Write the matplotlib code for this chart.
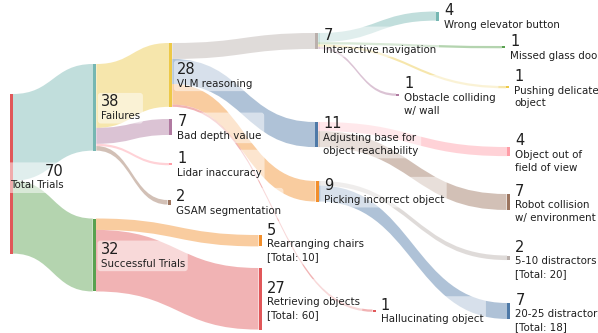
"""Sankey diagram of trial outcomes and failure modes."""

from __future__ import annotations

import matplotlib

matplotlib.use("Agg")
import matplotlib.pyplot as plt
from matplotlib.patches import FancyBboxPatch, PathPatch, Rectangle
from matplotlib.path import Path


# --- data -----------------------------------------------------------------
node_keys = [
    "total", "failures", "success", "vlm", "depth", "lidar", "gsam",
    "interactive", "adjust", "picking", "rearrange", "retrieve", "halluc",
    "obstacle", "elevator", "glass", "delicate", "fov", "collision",
    "d5_10", "d20_25",
]
node_values = [70, 38, 32, 28, 7, 1, 2, 7, 11, 9, 5, 27, 1, 1, 4, 1, 1, 4, 7, 2, 7]
node_names = [
    "Total Trials", "Failures", "Successful Trials", "VLM reasoning",
    "Bad depth value", "Lidar inaccuracy", "GSAM segmentation",
    "Interactive navigation", "Adjusting base for\nobject reachability",
    "Picking incorrect object", "Rearranging chairs\n[Total: 10]",
    "Retrieving objects\n[Total: 60]", "Hallucinating object",
    "Obstacle colliding\nw/ wall", "Wrong elevator button",
    "Missed glass door", "Pushing delicate\nobject",
    "Object out of\nfield of view", "Robot collision\nw/ environment",
    "5-10 distractors\n[Total: 20]", "20-25 distractors\n[Total: 18]",
]

flow_sources = [
    "total", "total",
    "failures", "failures", "failures", "failures",
    "success", "success",
    "vlm", "vlm", "vlm", "vlm",
    "interactive", "interactive", "interactive", "interactive",
    "adjust", "adjust",
    "picking", "picking",
]
flow_targets = [
    "failures", "success",
    "vlm", "depth", "lidar", "gsam",
    "rearrange", "retrieve",
    "interactive", "adjust", "picking", "halluc",
    "elevator", "glass", "delicate", "obstacle",
    "fov", "collision",
    "d5_10", "d20_25",
]
flow_values = [38, 32, 28, 7, 1, 2, 5, 27, 7, 11, 9, 1, 4, 1, 1, 1, 4, 7, 2, 7]

# --- layout (pixels) ------------------------------------------------------
SCALE = 2.28  # px per trial
BAR_W = 3.3
node_x = {
    "total": 9.5, "failures": 93, "success": 92.7, "vlm": 169, "depth": 169,
    "lidar": 169, "gsam": 167.5, "interactive": 315, "adjust": 315,
    "picking": 315.5, "rearrange": 258.5, "retrieve": 258.5, "halluc": 372.5,
    "obstacle": 396, "elevator": 436, "glass": 502, "delicate": 506,
    "fov": 507, "collision": 506.5, "d5_10": 507, "d20_25": 507,
}
node_top = {
    "total": 94, "failures": 64, "success": 218.5, "vlm": 43, "depth": 119,
    "lidar": 163, "gsam": 200, "interactive": 33, "adjust": 122,
    "picking": 181, "rearrange": 235, "retrieve": 268, "halluc": 309.5,
    "obstacle": 93.5, "elevator": 11.5, "glass": 46, "delicate": 86,
    "fov": 147, "collision": 194, "d5_10": 255.5, "d20_25": 303,
}

T10 = {
    "blue": "#4e79a7", "orange": "#f28e2b", "red": "#e15759", "teal": "#76b7b2",
    "green": "#59a14f", "yellow": "#edc948", "purple": "#b07aa1",
    "pink": "#ff9da7", "brown": "#9c755f", "grey": "#bab0ac",
}
node_color = {
    "total": T10["red"], "failures": T10["teal"], "success": T10["green"],
    "vlm": T10["yellow"], "depth": T10["purple"], "lidar": T10["pink"],
    "gsam": T10["brown"], "interactive": T10["grey"], "adjust": T10["blue"],
    "picking": T10["orange"], "rearrange": T10["orange"], "retrieve": T10["red"],
    "halluc": T10["red"], "obstacle": T10["purple"], "elevator": T10["teal"],
    "glass": T10["green"], "delicate": T10["yellow"], "fov": T10["pink"],
    "collision": T10["brown"], "d5_10": T10["grey"], "d20_25": T10["blue"],
}

LINK_ALPHA = 0.45
TEXT_COLOR = "#1f1f1f"
NUM_SIZE = 10.5
NAME_SIZE = 7.35


def _link_path(x0: float, s0: float, s1: float, x1: float, t0: float, t1: float) -> Path:
    xm = (x0 + x1) / 2
    verts = [
        (x0, s0), (xm, s0), (xm, t0), (x1, t0),
        (x1, t1), (xm, t1), (xm, s1), (x0, s1), (x0, s0),
    ]
    codes = [
        Path.MOVETO, Path.CURVE4, Path.CURVE4, Path.CURVE4,
        Path.LINETO, Path.CURVE4, Path.CURVE4, Path.CURVE4, Path.CLOSEPOLY,
    ]
    return Path(verts, codes)


def main() -> None:
    fig = plt.figure(figsize=(5.98, 3.33), dpi=100)
    ax = fig.add_axes([0, 0, 1, 1])
    ax.set_xlim(0, 598)
    ax.set_ylim(333, 0)
    ax.axis("off")

    values = dict(zip(node_keys, node_values))
    flows = list(zip(flow_sources, flow_targets, flow_values))

    # stacking offsets: outgoing sorted by target position, incoming by source
    src_off: dict[tuple[str, str], float] = {}
    for key in node_keys:
        outs = sorted([f for f in flows if f[0] == key], key=lambda f: node_top[f[1]])
        y = node_top[key]
        for s, t, v in outs:
            src_off[(s, t)] = y
            y += v * SCALE
    tgt_off: dict[tuple[str, str], float] = {}
    for key in node_keys:
        ins = sorted([f for f in flows if f[1] == key], key=lambda f: node_top[f[0]])
        y = node_top[key]
        for s, t, v in ins:
            tgt_off[(s, t)] = y
            y += v * SCALE

    for s, t, v in flows:
        h = v * SCALE
        s0 = src_off[(s, t)]
        t0 = tgt_off[(s, t)]
        path = _link_path(node_x[s] + BAR_W, s0, s0 + h, node_x[t], t0, t0 + h)
        ax.add_patch(
            PathPatch(path, facecolor=node_color[t], alpha=LINK_ALPHA, lw=0, zorder=1)
        )

    for key in node_keys:
        ax.add_patch(
            Rectangle(
                (node_x[key], node_top[key]),
                BAR_W,
                values[key] * SCALE,
                facecolor=node_color[key],
                lw=0,
                zorder=2,
            )
        )

    labels = []
    for key, name in zip(node_keys, node_names):
        n_lines = name.count("\n") + 1
        yc = node_top[key] + values[key] * SCALE / 2
        if key == "total":
            yc += 3
        block_h = 10.6 + 5 + 7.4 + (n_lines - 1) * 10.5
        base = yc - block_h / 2 + 10.6
        if key == "total":
            lx, ha = 64, "right"
        else:
            lx, ha = node_x[key] + BAR_W + 5, "left"
        t_num = ax.text(
            lx, base, str(values[key]), fontsize=NUM_SIZE, color=TEXT_COLOR,
            ha=ha, va="baseline", zorder=4,
        )
        t_name = ax.text(
            lx, base + 4.6, name, fontsize=NAME_SIZE, color=TEXT_COLOR,
            ha=ha, va="top", linespacing=1.35, zorder=4, multialignment=ha,
        )
        labels.append((t_num, t_name))

    # translucent rounded boxes behind each label
    renderer = fig.canvas.get_renderer()
    inv = ax.transData.inverted()
    for t_num, t_name in labels:
        b1 = t_num.get_window_extent(renderer)
        b2 = t_name.get_window_extent(renderer)
        x0 = min(b1.x0, b2.x0)
        x1 = max(b1.x1, b2.x1)
        y0 = min(b1.y0, b2.y0)
        y1 = max(b1.y1, b2.y1)
        (dx0, dy0), (dx1, dy1) = inv.transform([(x0, y0), (x1, y1)])
        left, right = min(dx0, dx1), max(dx0, dx1)
        top, bottom = min(dy0, dy1), max(dy0, dy1)
        ax.add_patch(
            FancyBboxPatch(
                (left - 1, top + 1),
                right - left + 1,
                bottom - top - 1,
                boxstyle="round,pad=2.5,rounding_size=3",
                facecolor="white",
                alpha=0.5,
                lw=0,
                zorder=3,
            )
        )

    fig.savefig("out.png", dpi=100)
    plt.close(fig)


if __name__ == "__main__":
    main()
